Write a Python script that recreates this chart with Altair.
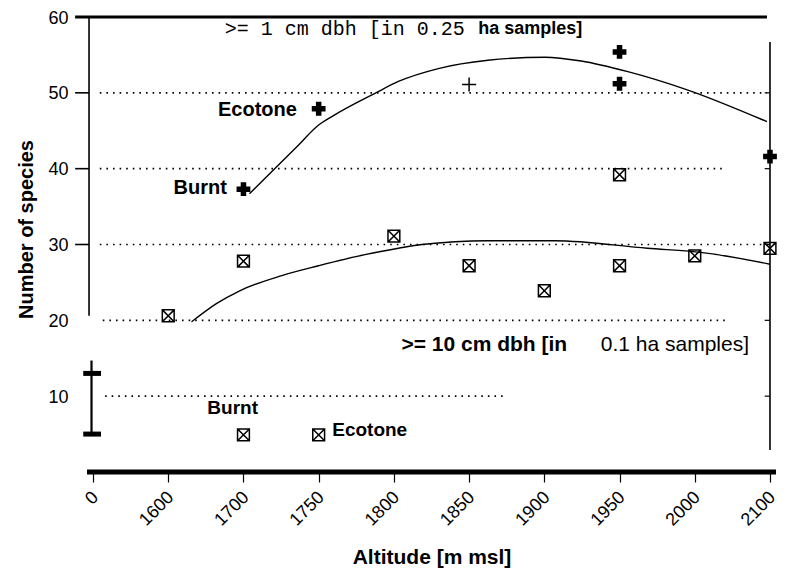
import json
import altair as alt
import pandas as pd

# ---------------- data ----------------
altitudes = ["0", "1600", "1700", "1750", "1800", "1850", "1900", "1950", "2000", "2100"]

# >= 1 cm dbh, 0.25 ha samples (bold crosses)
cross_alt = ["1700", "1750", "1950", "1950", "2100"]
cross_val = [37.3, 47.9, 55.4, 51.2, 41.6]

# thin plus
thin_alt = ["1850"]
thin_val = [51.1]

# boxed-x markers
box_alt = ["1600", "1700", "1800", "1850", "1900", "1950", "1950", "2000", "2100", "1700", "1750"]
box_val = [20.6, 27.8, 31.1, 27.2, 23.9, 39.2, 27.2, 28.5, 29.5, 4.9, 4.9]

# fitted curves (position along the altitude axis, value)
upper_pos = [2.08, 2.74, 2.98, 3.18, 3.76, 4.06, 4.59, 5.25, 6.01, 6.49, 7.11, 7.90, 8.96]
upper_val = [36.7, 43.2, 45.6, 46.9, 50.0, 51.5, 53.2, 54.3, 54.7, 54.2, 52.8, 50.4, 46.2]
lower_pos = [1.31, 1.64, 1.95, 2.51, 3.00, 3.63, 4.06, 4.37, 5.25, 6.14, 7.37, 8.13, 9.00]
lower_val = [19.8, 22.2, 23.9, 25.9, 27.2, 28.7, 29.5, 30.0, 30.5, 30.5, 29.5, 28.9, 27.4]

# range bar at "0"
err_low, err_cap_high, err_top = 5.0, 13.0, 14.7

# dotted reference lines
grid_val = [50, 40, 30, 20, 10]
grid_from = [0.09, 0.09, 0.09, 0.13, 0.16]
grid_to = [8.96, 8.39, 9.06, 8.43, 5.49]

y_labels = [10, 20, 30, 40, 50, 60]

# ---------------- tables ----------------
idx = {a: i for i, a in enumerate(altitudes)}
cross_df = pd.DataFrame({"x": [idx[a] for a in cross_alt], "y": cross_val})
thin_df = pd.DataFrame({"x": [idx[a] for a in thin_alt], "y": thin_val})
box_df = pd.DataFrame({"x": [idx[a] for a in box_alt], "y": box_val})
upper_df = pd.DataFrame({"x": upper_pos, "y": upper_val})
lower_df = pd.DataFrame({"x": lower_pos, "y": lower_val})
grid_df = pd.DataFrame({"y": grid_val, "x": grid_from, "x2": grid_to})

W, H = 689, 455
XMAX = 9.08
xs = alt.Scale(domain=[-0.08, XMAX], nice=False, zero=False)
ys = alt.Scale(domain=[0, 60], nice=False, zero=False)
FONT = "Liberation Sans"

label_expr = json.dumps(altitudes) + "[datum.value]"

# axis-carrying layer (invisible points)
axis_df = pd.DataFrame({"x": list(range(len(altitudes))), "y": [0] * len(altitudes)})
axes = alt.Chart(axis_df).mark_point(opacity=0).encode(
    x=alt.X("x:Q", scale=xs, axis=alt.Axis(
        values=list(range(len(altitudes))), labelExpr=label_expr,
        labelAngle=-45, labelAlign="right", labelBaseline="top",
        labelFont=FONT, labelFontSize=18, labelColor="black",
        labelPadding=6, labelOffset=-4,
        tickSize=10, tickColor="black", tickWidth=1.2,
        domain=False, grid=False,
        title="Altitude [m msl]", titleFont=FONT, titleFontSize=21,
        titleFontWeight="bold", titleColor="black",
        titleY=85, titleBaseline="middle")),
    y=alt.Y("y:Q", scale=ys, axis=alt.Axis(
        values=y_labels, ticks=False, domain=False, grid=False,
        labelFont=FONT, labelFontSize=18, labelColor="black", labelPadding=19,
        labelOffset=1,
        title="Number of species", titleFont=FONT, titleFontSize=20,
        titleFontWeight="bold", titleColor="black", titleAngle=270,
        titleX=-51, titleY=212, titleBaseline="bottom")),
)

def X(f="x"):
    return alt.X(f + ":Q", scale=xs)

def Y(f="y"):
    return alt.Y(f + ":Q", scale=ys)

grid = alt.Chart(grid_df).mark_rule(color="black", strokeWidth=1.6, strokeDash=[1.6, 5]).encode(
    x=X(), x2="x2:Q", y=Y())

# frame pieces
frame_h = pd.DataFrame({"y": [60, 0], "x": [-0.238, -0.08], "x2": [8.96, XMAX], "w": [3, 5]})
frame = alt.Chart(frame_h).mark_rule(color="black").encode(
    x=X(), x2="x2:Q", y=Y(), strokeWidth=alt.StrokeWidth("w:Q", scale=None, legend=None))
frame_v = pd.DataFrame({"x": [-0.053, 9.0], "y": [20.6, 2.9], "y2": [60, 56.7]})
framev = alt.Chart(frame_v).mark_rule(color="black", strokeWidth=1.6).encode(
    x=X(), y=Y(), y2="y2:Q")
lt = pd.DataFrame({"y": [30, 40, 50], "x": [-0.238] * 3, "x2": [-0.053] * 3})
lticks = alt.Chart(lt).mark_rule(color="black", strokeWidth=1.6).encode(x=X(), x2="x2:Q", y=Y())
rt = pd.DataFrame({"y": [10, 20, 30, 40, 50], "x": [8.93] * 5, "x2": [9.0] * 5})
rticks = alt.Chart(rt).mark_rule(color="black", strokeWidth=1.2).encode(x=X(), x2="x2:Q", y=Y())

# range bar
bar_v = pd.DataFrame({"x": [-0.02], "y": [err_low], "y2": [err_top]})
barv = alt.Chart(bar_v).mark_rule(color="black", strokeWidth=2.2).encode(x=X(), y=Y(), y2="y2:Q")
bar_c = pd.DataFrame({"y": [err_low, err_cap_high], "x": [-0.13] * 2, "x2": [0.106] * 2})
barc = alt.Chart(bar_c).mark_rule(color="black", strokeWidth=5).encode(x=X(), x2="x2:Q", y=Y())

upper = alt.Chart(upper_df).mark_line(color="black", strokeWidth=1.4, interpolate="monotone").encode(
    x=X(), y=Y())
lower = alt.Chart(lower_df).mark_line(color="black", strokeWidth=1.4, interpolate="monotone").encode(
    x=X(), y=Y())

crosses = alt.Chart(cross_df).mark_point(shape="cross", filled=True, color="black",
                                         size=190, opacity=1).encode(x=X(), y=Y())
thin = alt.Chart(thin_df).mark_point(shape="M-1,0L1,0M0,-1L0,1", filled=False, color="black",
                                     strokeWidth=1.5, size=200, opacity=1).encode(x=X(), y=Y())
boxes = alt.Chart(box_df).mark_point(
    shape="M-1,-1L1,-1L1,1L-1,1Z M-1,-1L1,1 M1,-1L-1,1", filled=False, color="black",
    strokeWidth=1.5, size=140, opacity=1).encode(x=X(), y=Y())

# annotations
def txt(rows, **kw):
    df = pd.DataFrame(rows, columns=["x", "y", "t"])
    return alt.Chart(df).mark_text(color="black", baseline="middle", **kw).encode(
        x=X(), y=Y(), text="t:N")

t_mono = txt([(1.75, 58.4, ">= 1 cm dbh  [in 0.25")], align="left", font="Liberation Mono", fontSize=20)
t_top_b = txt([(5.12, 58.4, "ha samples]")], align="left", font=FONT, fontSize=18, fontWeight="bold")
t_right = txt([(2.71, 47.8, "Ecotone"), (1.78, 37.4, "Burnt")], align="right", font=FONT,
              fontSize=20, fontWeight="bold")
t_left = txt([(1.52, 8.5, "Burnt"), (3.18, 5.5, "Ecotone")], align="left", font=FONT,
             fontSize=19, fontWeight="bold")
t_low_b = txt([(4.10, 16.7, ">= 10 cm dbh [in")], align="left", font=FONT, fontSize=21, fontWeight="bold")
t_low_r = txt([(6.75, 16.7, "0.1  ha samples]")], align="left", font=FONT, fontSize=21)

chart = alt.layer(
    axes, grid, frame, framev, lticks, rticks, barv, barc, upper, lower,
    crosses, thin, boxes, t_mono, t_top_b, t_right, t_left, t_low_b, t_low_r
).properties(
    width=W, height=H,
    autosize=alt.AutoSizeParams(type="none"),
    padding={"left": 79, "top": 9, "right": 4, "bottom": 100},
    background="white",
).configure_view(stroke=None)

chart.save("out.html", embed_options={"renderer": "svg", "actions": False})
